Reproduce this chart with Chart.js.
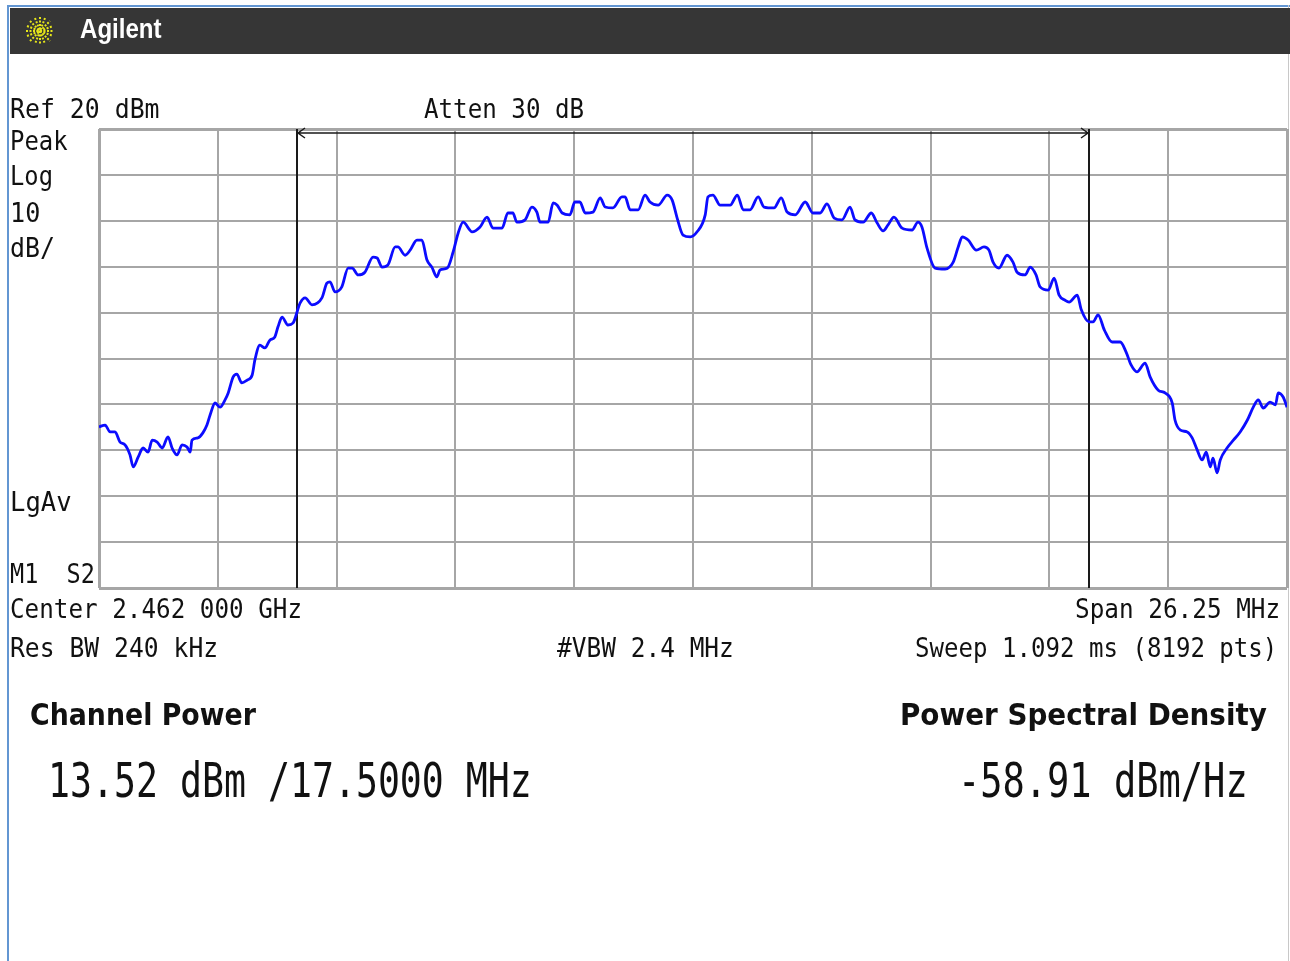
<!DOCTYPE html>
<html>
<head>
<meta charset="utf-8">
<script src="https://cdn.jsdelivr.net/npm/chart.js@4.4.1/dist/chart.umd.min.js"></script>
<style>
  html, body { margin: 0; padding: 0; background: #fff; }
  #page { position: relative; width: 1290px; height: 961px; overflow: hidden; background: #fff; }
  #c { position: absolute; left: 0; top: 0; }
  .lbl { position: absolute; white-space: pre; line-height: 1; color: #111; }
  .mk { display: inline-block; width: 0; height: 0; vertical-align: baseline; }
  #bar { position: absolute; left: 10px; top: 8px; width: 1280px; height: 46px; background: #363636; }
  #blueTop { position: absolute; left: 7px; top: 5px; width: 1283px; height: 2px; background: #6396d2; }
  #blueLeft { position: absolute; left: 7px; top: 5px; width: 2px; height: 956px; background: #6396d2; }
  #rightEdge { position: absolute; left: 1288px; top: 5px; width: 1px; height: 956px; background: #c8c8c8; }
  #logo { position: absolute; left: 24px; top: 15px; }
</style>
</head>
<body>
<div id="page">
  <div id="blueTop"></div>
  <div id="blueLeft"></div>
  <div id="rightEdge"></div>
  <div id="bar"></div>
  <svg id="logo" width="32" height="32" viewBox="-16 -16 32 32">
    <g stroke="#e6e61a" stroke-width="2" stroke-dasharray="2 1.5">
      <line x1="0" y1="-14" x2="0" y2="14"/>
      <line x1="-14" y1="0" x2="14" y2="0"/>
      <line x1="-10" y1="-10" x2="10" y2="10"/>
      <line x1="-10" y1="10" x2="10" y2="-10"/>
      <line x1="-5" y1="-13" x2="5" y2="13"/>
      <line x1="5" y1="-13" x2="-5" y2="13"/>
      <line x1="-13" y1="-5" x2="13" y2="5"/>
      <line x1="-13" y1="5" x2="13" y2="-5"/>
    </g>
  </svg>
  <canvas id="c" width="1290" height="961"></canvas>
</div>
<script>
// trace: offset from 2.462 GHz centre (MHz) and level (dBm)
const freqOffsetMHz = [
  -13.125, -12.99, -12.88, -12.77, -12.66, -12.55, -12.44, -12.37, -12.26, -12.15,
  -12.04, -11.95, -11.84, -11.73, -11.60, -11.51, -11.40, -11.29, -11.18, -11.11,
  -11.07, -10.94, -10.83, -10.74, -10.67, -10.56, -10.45, -10.34, -10.27,
  -10.16, -10.08, -9.97, -9.85, -9.74, -9.68, -9.57, -9.46, -9.35, -9.24, -9.17, -9.08, -8.95, -8.84,
  -8.68, -8.57, -8.42, -8.20, -8.09, -8.02, -7.91, -7.76, -7.62, -7.53,
  -7.40, -7.25, -7.07, -6.98, -6.87, -6.74, -6.58, -6.52, -6.36, -6.25,
  -6.10, -5.99, -5.88, -5.77, -5.66, -5.59, -5.43, -5.30, -5.19, -5.08,
  -4.88, -4.71, -4.55, -4.42, -4.22, -4.09, -3.98, -3.89, -3.71, -3.56,
  -3.45, -3.38, -3.20, -3.09, -3.00, -2.89, -2.72, -2.61, -2.50, -2.38,
  -2.21, -2.05, -1.94, -1.77, -1.57, -1.50, -1.39, -1.21, -1.06, -0.95,
  -0.77, -0.57, -0.46, -0.35, -0.22, -0.06, 0.09, 0.27, 0.33, 0.44,
  0.60, 0.82,
  0.98, 1.11, 1.26, 1.44, 1.57, 1.79, 1.95, 2.08, 2.26, 2.48,
  2.65, 2.81, 2.96, 3.12, 3.29, 3.47, 3.58, 3.76, 3.94, 4.07,
  4.20, 4.31, 4.44, 4.62, 4.84, 4.97, 5.06, 5.17, 5.35, 5.57,
  5.75, 5.86, 5.95, 6.08, 6.26, 6.43, 6.54, 6.63, 6.76, 6.94,
  7.07, 7.16, 7.34, 7.45, 7.58, 7.67, 7.85, 7.98, 8.09, 8.22,
  8.31, 8.49, 8.58, 8.75, 8.84, 8.95, 9.09, 9.26, 9.44, 9.57,
  9.68, 9.81, 9.99, 10.10, 10.28, 10.43, 10.59, 10.65, 10.77, 10.92,
  11.03, 11.14, 11.25, 11.34, 11.43, 11.49, 11.58, 11.65, 11.80, 11.94,
  12.09, 12.25, 12.38, 12.49, 12.60, 12.75, 12.87, 12.93, 13.04, 13.125
];
const levelDbm = [
  -44.9, -44.5, -46.0, -46.0, -48.2, -48.8, -51.0, -53.6, -51.5, -49.5,
  -50.4, -47.8, -48.2, -49.5, -47.1, -49.5, -51.0, -48.8, -49.3, -50.4,
  -47.8, -47.3, -46.2, -44.5, -42.3, -39.7, -40.6, -39.0, -37.5,
  -34.0, -33.4, -35.3, -34.7, -33.6, -30.3, -27.1, -27.7, -26.0, -25.3, -23.1, -21.0, -22.7, -22.3,
  -17.9, -16.8, -18.3, -16.8, -13.6, -13.3, -15.5, -14.4, -10.3, -10.3,
  -11.8, -11.2, -7.9, -8.1, -10.1, -9.6, -5.7, -5.7, -7.5, -6.4,
  -4.2, -4.2, -8.5, -10.1, -12.2, -10.7, -10.3, -6.8, -2.7, -0.3,
  -2.4, -1.4, 0.8, -1.6, -1.6, 1.7, 1.7, -0.3, 0.2, 3.0,
  1.9, -0.3, -0.3, 3.9, 3.4, 1.7, 1.3, 4.1, 4.1, 1.7,
  1.9, 5.0, 3.0, 2.8, 5.2, 5.2, 2.4, 2.4, 5.6, 4.1,
  3.4, 5.6, 4.5, 0.6, -3.1, -3.5, -2.4, 1.3, 5.2, 5.6,
  3.4, 3.4,
  5.6, 2.4, 2.4, 5.2, 3.0, 2.8, 5.0, 1.9, 1.3, 4.1,
  1.7, 1.7, 3.7, 0.6, 0.2, 3.0, 0.2, -0.3, 1.7, -0.5,
  -2.2, -0.9, 0.8, -1.6, -2.0, -0.3, -1.4, -5.9, -10.3, -10.5,
  -9.0, -5.7, -3.5, -4.2, -6.4, -5.7, -6.4, -9.0, -10.3, -7.5,
  -9.0, -11.2, -11.8, -10.1, -11.8, -14.4, -15.1, -12.5, -16.2, -17.3,
  -17.7, -16.2, -19.4, -22.0, -22.0, -20.5, -23.8, -26.4, -26.4, -28.6,
  -31.4, -32.9, -31.0, -34.0, -36.9, -37.5, -39.7, -43.4, -45.6, -46.0,
  -47.3, -49.9, -52.1, -50.4, -53.6, -51.7, -54.9, -52.1, -49.5, -47.8,
  -46.0, -43.4, -40.6, -39.0, -40.8, -39.5, -40.1, -37.5, -38.4, -40.6
];

// 10 divisions each way: span 26.25 MHz, ref 20 dBm, 10 dB/div
const gridFreqs = [-13.125, -10.5, -7.875, -5.25, -2.625, 0, 2.625, 5.25, 7.875, 10.5, 13.125];
const gridLevels = [-80, -70, -60, -50, -40, -30, -20, -10, 0, 10, 20];
// channel power integration bandwidth 17.5 MHz
const channelEdges = [-8.75, 8.75];

const MONO = '"DejaVu Sans Mono", monospace';
const SANS = '"DejaVu Sans", sans-serif';
const page = document.getElementById('page');

function label(txt, x, base, size, o) {
  o = o || {};
  const d = document.createElement('div');
  d.className = 'lbl';
  d.style.font = (o.weight || 'normal') + ' ' + size + 'px ' + (o.family || MONO);
  if (o.color) d.style.color = o.color;
  d.textContent = txt;
  const m = document.createElement('span');
  m.className = 'mk';
  d.appendChild(m);
  page.appendChild(d);
  const b = m.offsetTop;
  const w = d.offsetWidth;
  const sx = o.w ? o.w / w : 1;
  const sy = o.sy || 1;
  d.style.top = (base - b) + 'px';
  d.style.left = (o.right ? x - w : x) + 'px';
  d.style.transformOrigin = (o.right ? '100% ' : '0 ') + b + 'px';
  d.style.transform = 'scale(' + sx + ',' + sy + ')';
}

const channelMarks = {
  id: 'channelMarks',
  beforeDatasetsDraw(chart) {
    const { ctx, chartArea, scales } = chart;
    const xl = scales.x.getPixelForValue(channelEdges[0]);
    const xr = scales.x.getPixelForValue(channelEdges[1]);
    const ya = chartArea.top + 4;
    ctx.save();
    ctx.strokeStyle = '#1a1a1a';
    ctx.lineWidth = 2;
    ctx.beginPath();
    ctx.moveTo(xl, chartArea.top); ctx.lineTo(xl, chartArea.bottom);
    ctx.moveTo(xr, chartArea.top); ctx.lineTo(xr, chartArea.bottom);
    ctx.stroke();
    ctx.lineWidth = 1.5;
    ctx.beginPath();
    ctx.moveTo(xl, ya); ctx.lineTo(xr, ya);
    ctx.moveTo(xl + 8, ya - 5); ctx.lineTo(xl + 1, ya); ctx.lineTo(xl + 8, ya + 5);
    ctx.moveTo(xr - 8, ya - 5); ctx.lineTo(xr - 1, ya); ctx.lineTo(xr - 8, ya + 5);
    ctx.stroke();
    ctx.restore();
  }
};

const edgeWidth = (c) => (c.index === 0 || c.index === 10) ? 3 : 2;

new Chart(document.getElementById('c'), {
  type: 'line',
  data: {
    datasets: [{
      data: freqOffsetMHz.map((f, i) => ({ x: f, y: levelDbm[i] })),
      borderColor: '#0c0cff',
      borderWidth: 2.8,
      pointRadius: 0,
      cubicInterpolationMode: 'monotone',
      fill: false
    }]
  },
  options: {
    responsive: false,
    animation: false,
    events: [],
    layout: { padding: { left: 99, top: 129, right: 3, bottom: 373 } },
    plugins: { legend: { display: false }, tooltip: { enabled: false } },
    scales: {
      x: {
        type: 'linear', min: gridFreqs[0], max: gridFreqs[gridFreqs.length - 1],
        afterBuildTicks: s => { s.ticks = gridFreqs.map(v => ({ value: v })); },
        ticks: { display: false },
        grid: { color: '#a6a6a6', lineWidth: edgeWidth, drawTicks: false },
        border: { display: false }
      },
      y: {
        type: 'linear', min: gridLevels[0], max: gridLevels[gridLevels.length - 1],
        afterBuildTicks: s => { s.ticks = gridLevels.map(v => ({ value: v })); },
        ticks: { display: false },
        grid: { color: '#a6a6a6', lineWidth: edgeWidth, drawTicks: false },
        border: { display: false }
      }
    }
  },
  plugins: [channelMarks]
});

label('Agilent', 80, 38, 27, { family: '"Liberation Sans", Arial, sans-serif', weight: 'bold', color: '#fff', w: 82 });

label('Ref 20 dBm', 10, 118, 26, { w: 150, sy: 1.05 });
label('Atten 30 dB', 424, 118, 26, { w: 160, sy: 1.05 });
label('Peak', 10, 150, 26, { w: 58, sy: 1.05 });
label('Log', 10, 185, 26, { w: 43, sy: 1.05 });
label('10', 10, 222, 26, { w: 30, sy: 1.05 });
label('dB/', 10, 257, 26, { w: 45, sy: 1.05 });
label('LgAv', 10, 511, 26, { w: 62, sy: 1.05 });
label('M1  S2', 10, 583, 26, { w: 85, sy: 1.05 });
label('Center 2.462 000 GHz', 10, 618, 26, { w: 292, sy: 1.05 });
label('Span 26.25 MHz', 1280, 618, 26, { w: 205, sy: 1.05, right: true });
label('Res BW 240 kHz', 10, 657, 26, { w: 208, sy: 1.05 });
label('#VBW 2.4 MHz', 557, 657, 26, { w: 177, sy: 1.05 });
label('Sweep 1.092 ms (8192 pts)', 1277, 657, 26, { w: 362, sy: 1.05, right: true });

label('Channel Power', 30, 725, 30, { family: SANS, weight: 'bold', w: 226 });
label('Power Spectral Density', 1267, 725, 30, { family: SANS, weight: 'bold', w: 367, right: true });
label('13.52 dBm /17.5000 MHz', 48, 797, 48, { w: 484 });
label('-58.91 dBm/Hz', 1248, 797, 48, { w: 290, right: true });
</script>
</body>
</html>
